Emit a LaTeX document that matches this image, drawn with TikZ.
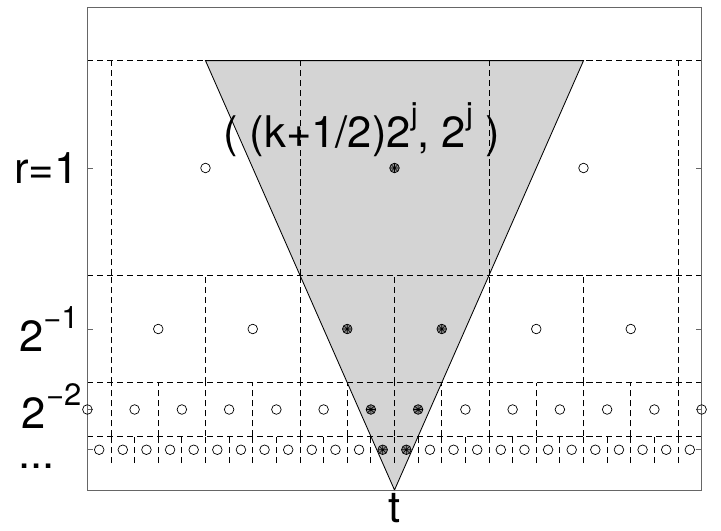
\documentclass[tikz,border=0pt]{standalone}
\usepackage{fontspec}
\setmainfont{TeX Gyre Heros}
\usepackage{tikz}
\usetikzlibrary{positioning}
\newcommand{\hi}[1]{\raisebox{0.52em}{\fontsize{22}{26}\selectfont #1}}

\tikzset{
  tile/.style={dash pattern=on 4.3pt off 2.8pt, line width=0.55pt},
  axbox/.style={draw=black!60, line width=0.6pt},
  cone/.style={fill=black!17},
  opn/.style={circle, draw, line width=0.5pt, inner sep=0pt, minimum size=2.4mm},
  hit/.style={opn, fill=black!45, path picture={
    \draw[line width=0.4pt] (path picture bounding box.north) -- (path picture bounding box.south)
      (path picture bounding box.east) -- (path picture bounding box.west)
      (path picture bounding box.north east) -- (path picture bounding box.south west)
      (path picture bounding box.north west) -- (path picture bounding box.south east);}},
  lbl/.style={inner sep=0pt, font=\fontsize{31}{37}\selectfont}
}

\begin{document}
\begin{tikzpicture}[x=4.725cm, y=8.05cm]
\useasboundingbox (-0.5873,-0.12422) rectangle (3.22751,1.52174);
% cone of influence
\coordinate (tl) at (0.5,4/3);
\coordinate (tr) at (2.5,4/3);
\coordinate (apex) at (1.5,0);
\fill[cone] (tl) -- (tr) -- (apex) -- cycle;
% tiling
\foreach \h in {4/3, 2/3, 1/3, 1/6}
  \draw[tile] (-0.125,\h) -- (3.125,\h);
\foreach \lev in {0,...,3} {
  \pgfmathsetmacro\s{2^(-\lev)}
  \pgfmathtruncatemacro\n{3*2^\lev}
  \foreach \i in {0,...,\n}
    \draw[tile] (\i*\s,2*\s/3) -- (\i*\s,4*\s/3);
}
\draw[line width=0.6pt] (tl) -- (tr) -- (apex) -- cycle;
% axes
\draw[axbox] (-0.125,0) rectangle (3.125,1.5);
\foreach \r in {1,0.5,0.25,0.125} {
  \draw[axbox] (-0.125,\r) -- ++(0.032,0);
  \draw[axbox] (3.125,\r) -- ++(-0.032,0);
}
% centres of the tiles
\foreach \lev/\kmin/\kmax in {0/0/2, 1/0/5, 2/-1/12, 3/-1/24} {
  \pgfmathsetmacro\s{2^(-\lev)}
  \foreach \k in {\kmin,...,\kmax} {
    \pgfmathtruncatemacro\ishit{abs((\k+0.5)*\s-1.5) < 0.75*\s}
    \def\mk{opn}
    \ifnum\ishit=1 \def\mk{hit}\fi
    \node[\mk] (m\lev k\k) at ({(\k+0.5)*\s},\s) {};
  }
}
% labels
\node[lbl, anchor=base] (pt) at (1.325,1.065) {( (k+1/2)2\hi{j}, 2\hi{j} )};
\node[lbl, anchor=east] (r0) at (-0.17,1) {r=1};
\node[lbl, anchor=east] (r1) at (-0.17,0.5) {2\hi{−1}};
\node[lbl, anchor=east] (r2) at (-0.155,0.26) {2\hi{−2}};
\node[lbl, anchor=base east] (r3) at (-0.296,0.068) {...};
\node[lbl, anchor=base] (tt) at (1.5,-0.1) {t};
\end{tikzpicture}
\end{document}
